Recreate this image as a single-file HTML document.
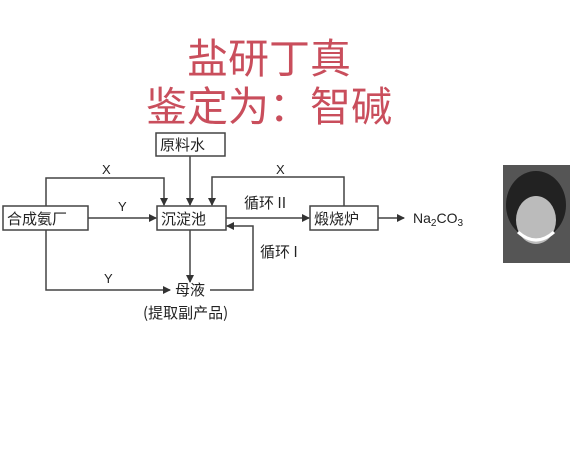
<!DOCTYPE html>
<html><head><meta charset="utf-8"><style>
body{margin:0;width:580px;height:476px;background:#fff;overflow:hidden;position:relative;font-family:"Liberation Sans","Noto Sans CJK SC",sans-serif}
.t{position:absolute;left:0;width:538px;text-align:center;color:#c94e5c;font-size:41px;line-height:46px;font-family:"Noto Sans CJK SC",sans-serif}
svg{position:absolute;left:0;top:0}
</style></head><body>
<div class="t" style="top:32px">盐研丁真</div>
<div class="t" style="top:80px">鉴定为：智碱</div>
<svg width="580" height="476" font-family="Noto Sans CJK SC, sans-serif" font-size="15" fill="#222">
<defs><marker id="a" markerWidth="8" markerHeight="8" refX="7" refY="4" orient="auto" markerUnits="userSpaceOnUse"><path d="M0,0 L8,4 L0,8 z" fill="#333"/></marker></defs>
<g stroke="#444" stroke-width="1.5" fill="none">
<rect x="156" y="133" width="69" height="23" fill="#fff"/>
<rect x="3" y="206" width="85" height="24" fill="#fff"/>
<rect x="157" y="206" width="69" height="24" fill="#fff"/>
<rect x="310" y="206" width="68" height="24" fill="#fff"/>
<path d="M46,206 V178 H164 V205" marker-end="url(#a)"/>
<path d="M190,156 V205" marker-end="url(#a)"/>
<path d="M344,206 V177 H212 V205" marker-end="url(#a)"/>
<path d="M88,218 H156" marker-end="url(#a)"/>
<path d="M226,218 H309" marker-end="url(#a)"/>
<path d="M378,218 H404" marker-end="url(#a)"/>
<path d="M210,290 H253 V226 H227" marker-end="url(#a)"/>
<path d="M190,230 V282" marker-end="url(#a)"/>
<path d="M46,230 V290 H170" marker-end="url(#a)"/>
</g>
<text x="160" y="150">原料水</text>
<text x="7" y="224">合成氨厂</text>
<text x="161" y="224">沉淀池</text>
<text x="314" y="224">煅烧炉</text>
<text x="102" y="174" font-size="13" font-family="Liberation Sans">X</text>
<text x="276" y="174" font-size="13" font-family="Liberation Sans">X</text>
<text x="118" y="211" font-size="13" font-family="Liberation Sans">Y</text>
<text x="104" y="283" font-size="13" font-family="Liberation Sans">Y</text>
<text x="244" y="208">循环 II</text>
<text x="260" y="257">循环 I</text>
<text x="413" y="223" font-family="Liberation Sans" font-size="14">Na<tspan font-size="10" dy="3">2</tspan><tspan dy="-3">CO</tspan><tspan font-size="10" dy="3">3</tspan></text>
<text x="175" y="295">母液</text>
<text x="143" y="318">(提取副产品)</text>
<rect x="503" y="165" width="67" height="98" fill="#555"/>
<ellipse cx="536" cy="205" rx="30" ry="34" fill="#222"/>
<ellipse cx="536" cy="220" rx="20" ry="24" fill="#bbb"/>
<path d="M518,232 Q536,248 554,232" stroke="#fff" stroke-width="3" fill="none"/>
</svg>
</body></html>
